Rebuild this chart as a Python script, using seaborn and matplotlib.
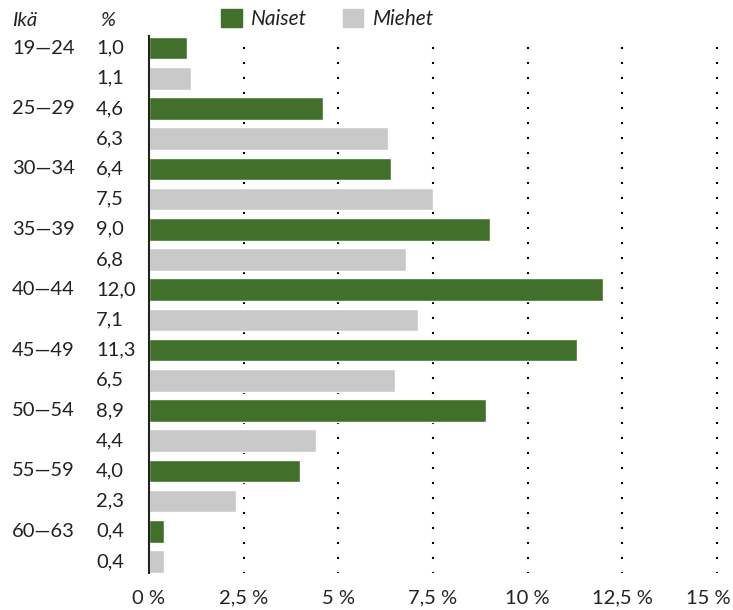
import numpy as np
import pandas as pd
import matplotlib
matplotlib.use("Agg")
import matplotlib.pyplot as plt
import matplotlib.patches as mpatches
import matplotlib.transforms as mtransforms
import seaborn as sns

# Ikäryhmät ja osuudet (%)
ikaryhmat = ["19\u201424", "25\u201429", "30\u201434", "35\u201439", "40\u201444",
             "45\u201449", "50\u201454", "55\u201459", "60\u201463"]
naiset = [1.0, 4.6, 6.4, 9.0, 12.0, 11.3, 8.9, 4.0, 0.4]
miehet = [1.1, 6.3, 7.5, 6.8, 7.1, 6.5, 4.4, 2.3, 0.4]
x_ticks = [0, 2.5, 5, 7.5, 10, 12.5, 15]
x_ticklabels = ["0 %", "2,5 %", "5 %", "7,5 %", "10 %", "12,5 %", "15 %"]

GREEN = "#41702a"
GREY = "#c9c9c9"
TXT = "#222222"
FS = 14.5

# one row per bar, women first inside each age group
rows = []
for ika, n, m in zip(ikaryhmat, naiset, miehet):
    rows.append({"rivi": ika + " N", "ika": ika, "osuus": n, "sukupuoli": "Naiset"})
    rows.append({"rivi": ika + " M", "ika": "", "osuus": m, "sukupuoli": "Miehet"})
df = pd.DataFrame(rows)

sns.set_style("white")
plt.rcParams["font.family"] = ["Lato", "DejaVu Sans"]

fig = plt.figure(figsize=(7.33, 6.10), dpi=100)
ax = fig.add_axes([149 / 733, 37 / 610, 568 / 733, 537 / 610])

sns.barplot(data=df, x="osuus", y="rivi", hue="sukupuoli",
            palette={"Naiset": GREEN, "Miehet": GREY},
            dodge=False, width=0.75, legend=False, ax=ax,
            saturation=1)

ax.set_xlim(0, 15)
ax.set_ylim(len(df) - 1 + 0.38, -0.4)

# dotted vertical guides
for t in x_ticks[1:]:
    ax.axvline(t, color="black", linewidth=1.5, linestyle=(0.5, (1, 6.2)),
               zorder=0, clip_on=False)

for s in ["top", "right", "bottom"]:
    ax.spines[s].set_visible(False)
ax.spines["left"].set_color(TXT)
ax.spines["left"].set_linewidth(1.5)

ax.set_xticks(x_ticks)
ax.set_xticklabels(x_ticklabels, fontsize=FS, color=TXT)
ax.tick_params(axis="x", length=0, pad=12)
ax.set_yticks([])
ax.set_xlabel("")
ax.set_ylabel("")
# keep the last tick label inside the figure
last = ax.get_xticklabels()[-1]
last.set_transform(last.get_transform() + mtransforms.ScaledTranslation(-9 / 100, 0, fig.dpi_scale_trans))

# row labels at the left
trans = mtransforms.blended_transform_factory(fig.transFigure, ax.transData)
for i, r in df.iterrows():
    ax.text(96 / 733, i, f"{r['osuus']:.1f}".replace(".", ","), transform=trans,
            ha="left", va="center", fontsize=FS, color=TXT)
    if r["ika"]:
        ax.text(12 / 733, i, r["ika"], transform=trans,
                ha="left", va="center", fontsize=FS, color=TXT)

fig.text(12 / 733, 1 - 20 / 610, "Ikä", ha="left", va="center",
         fontsize=FS, style="italic", color=TXT)
fig.text(100 / 733, 1 - 20 / 610, "%", ha="left", va="center",
         fontsize=FS, style="italic", color=TXT)

handles = [mpatches.Patch(color=GREEN, label="Naiset"),
           mpatches.Patch(color=GREY, label="Miehet")]
leg = fig.legend(handles=handles, loc="center left", bbox_to_anchor=(221 / 733, 1 - 19 / 610),
                 ncol=2, frameon=False, handlelength=1.0, handleheight=1.0,
                 handletextpad=0.45, columnspacing=1.7, borderaxespad=0, borderpad=0,
                 prop={"size": FS + 0.5, "style": "italic"})
for txt in leg.get_texts():
    txt.set_color(TXT)

fig.savefig("out.png", dpi=100)
